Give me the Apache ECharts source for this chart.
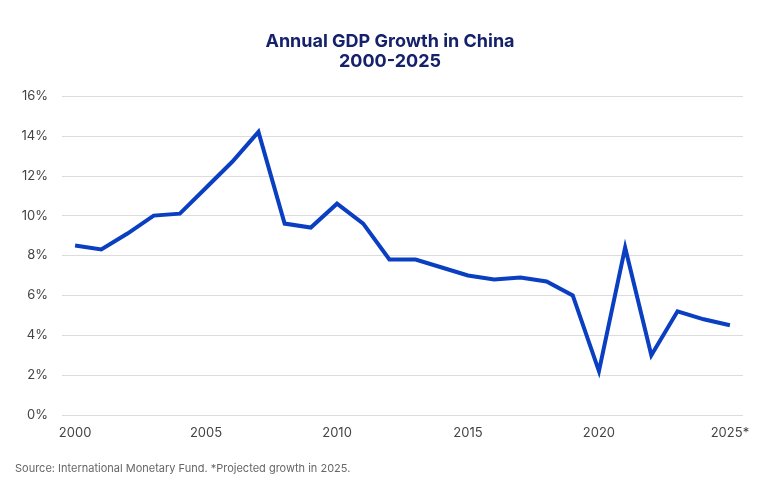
<!DOCTYPE html>
<html>
<head>
<meta charset="utf-8">
<script src="https://cdn.jsdelivr.net/npm/echarts@6/dist/echarts.min.js"></script>
<style>
html,body{margin:0;padding:0;background:#fff;}
#chart{width:780px;height:495px;}
</style>
</head>
<body>
<div id="chart"></div>
<script>
const years = ["2000","2001","2002","2003","2004","2005","2006","2007","2008","2009","2010","2011","2012","2013","2014","2015","2016","2017","2018","2019","2020","2021","2022","2023","2024","2025"];
const gdpGrowth = [8.5, 8.3, 9.1, 10.0, 10.1, 11.4, 12.7, 14.2, 9.6, 9.4, 10.6, 9.6, 7.8, 7.8, 7.4, 7.0, 6.8, 6.9, 6.7, 6.0, 2.2, 8.4, 3.0, 5.2, 4.8, 4.5];
const projectedYear = "2025";
const titleText = "Annual GDP Growth in China";
const subtitleText = "2000-2025";
const sourceText = "Source: International Monetary Fund. *Projected growth in 2025.";

const chart = echarts.init(document.getElementById('chart'));
chart.setOption({
  animation: false,
  backgroundColor: '#fff',
  title: [{
    text: titleText + '\n' + subtitleText,
    left: 'center',
    top: 27,
    textStyle: {fontFamily: 'Inter', fontSize: 18, fontWeight: 'bold', color: '#15226b', lineHeight: 20}
  }, {
    text: sourceText,
    left: 15,
    top: 463,
    padding: 0,
    textStyle: {fontFamily: 'Inter', fontSize: 11, fontWeight: 'normal', color: '#666'}
  }],
  grid: {left: 62, right: 37, top: 96, bottom: 80},
  xAxis: {
    type: 'category',
    data: years,
    boundaryGap: true,
    axisLine: {show: false},
    axisTick: {show: false},
    axisLabel: {
      interval: 4,
      margin: 12,
      fontFamily: 'Inter', fontSize: 13, color: '#444',
      formatter: v => v === projectedYear ? v + '*' : v
    }
  },
  yAxis: {
    type: 'value',
    min: 0, max: 16, interval: 2,
    axisLine: {show: false},
    axisTick: {show: false},
    splitLine: {lineStyle: {color: '#dcdcdc', width: 1}},
    axisLabel: {
      margin: 14,
      fontFamily: 'Inter', fontSize: 13, color: '#444',
      formatter: v => v + '%'
    }
  },
  series: [{
    type: 'line',
    data: gdpGrowth,
    symbol: 'none',
    lineStyle: {color: '#0a3fc2', width: 4, join: 'miter'},
    itemStyle: {color: '#0a3fc2'}
  }]
});
</script>
</body>
</html>
